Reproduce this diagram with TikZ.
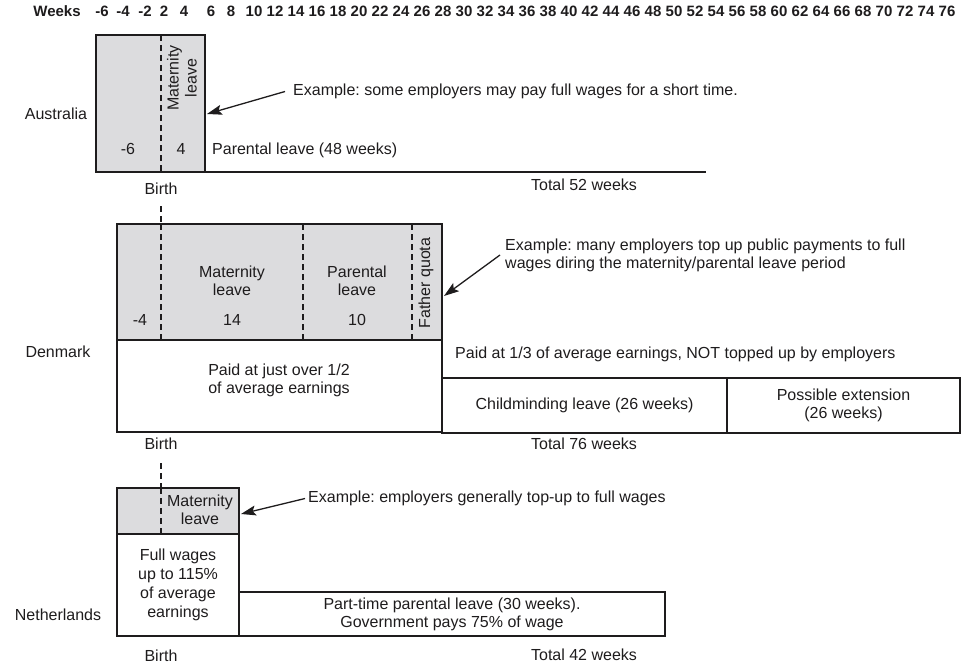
\documentclass[tikz,border=0pt]{standalone}
\usepackage{fontspec}
\setmainfont{Liberation Sans}
\usetikzlibrary{arrows.meta,calc}
\definecolor{ink}{HTML}{1E1C1D}
\definecolor{shade}{HTML}{DCDCDE}
\begin{document}
\frenchspacing
\begin{tikzpicture}[x=1pt,y=-1pt,
  every node/.style={text=ink, font=\fontsize{16}{18}\selectfont},
  box/.style={draw=ink, line width=1.1pt, inner sep=0pt, outer sep=0pt, anchor=north west, align=center},
  grey/.style={box, fill=shade},
  lbl/.style={inner sep=0pt, align=center},
  hdr/.style={inner sep=0pt, anchor=mid, font=\fontsize{15}{18}\selectfont\bfseries},
  birthline/.style={draw=ink, line width=1.1pt, dash pattern=on 6pt off 4pt},
  plainline/.style={draw=ink, line width=1.1pt},
  arr/.style={draw=ink, line width=1.3pt, -{Stealth[length=15pt,width=10pt,inset=3pt]}}
]
\useasboundingbox (0,0) rectangle (971,669);

% header
\node[hdr] (weeks) at (57,14) {Weeks};
\foreach \n/\x [count=\i] in {-6/102,-4/123,-2/145,2/164,4/184,6/211,8/231}
  \node[hdr] (wa\i) at (\x,14) {\n};
\foreach \n [count=\i, evaluate=\n as \x using 254+(\n-10)*10.5] in {10,12,...,76}
  \node[hdr] (wb\i) at (\x,14) {\n};

% ---------------- Australia ----------------
\node[grey, minimum width=109pt, minimum height=137pt] (aubox) at (96,35) {};
\draw[birthline] (161,35) -- (161,172);
\coordinate (auend) at (706,172);
\draw[plainline] (aubox.south east) -- (auend);
\node[lbl, rotate=90] (aumat) at (182,78) {Maternity\\leave};
\node[lbl, anchor=mid] (aum6) at (128,152) {-6};
\node[lbl, anchor=mid] (au4) at (181,152) {4};
\node[lbl, anchor=mid west] (aupar) at (212,152) {Parental leave (48 weeks)};
\node[lbl, anchor=mid west] (auex) at (293,93) {Example: some employers may pay full wages for a short time.};
\coordinate (autip) at (207,114);
\draw[arr] ([xshift=-8pt]auex.west) -- (autip);
\node[lbl, anchor=mid] (aulab) at (56,117) {Australia};
\node[lbl, anchor=mid] (aubirth) at (161,192) {Birth};
\node[lbl, anchor=mid] (autot) at (584,188) {Total 52 weeks};

% ---------------- Denmark ----------------
\draw[birthline] (161,206) -- (161,224);
\node[grey, minimum width=325pt, minimum height=116pt] (dkgrey) at (117,224) {};
\node[box, minimum width=325pt, minimum height=92pt] (dkwhite) at (117,340) {};
\draw[birthline] (161,224) -- (161,340);
\draw[birthline] (303,224) -- (303,340);
\draw[birthline] (412,224) -- (412,340);
\node[lbl] (dkmat) at (232,281) {Maternity\\leave};
\node[lbl] (dkpar) at (357,281) {Parental\\leave};
\node[lbl, anchor=mid] (dkm4) at (140,323) {-4};
\node[lbl, anchor=mid] (dk14) at (232,323) {14};
\node[lbl, anchor=mid] (dk10) at (357,323) {10};
\node[lbl, rotate=90] (dkfq) at (426,283) {Father quota};
\node[lbl] (dkhalf) at (279,380) {Paid at just over 1/2\\of average earnings};
\node[lbl, anchor=west, align=left] (dkex) at (505,255) {Example: many employers top up public payments to full\\wages diring the maternity/parental leave period};
\coordinate (dktip) at (444,296);
\draw[arr] ([xshift=-5pt]dkex.west) -- (dktip);
\node[lbl, anchor=mid west] (dkthird) at (455,356) {Paid at 1/3 of average earnings, NOT topped up by employers};
\node[box, minimum width=285pt, minimum height=55pt] (dkchild) at (442,378) {Childminding leave (26 weeks)};
\node[box, minimum width=233pt, minimum height=55pt] (dkext) at (727,378) {Possible extension\\(26 weeks)};
\node[lbl, anchor=mid] (dklab) at (58,355) {Denmark};
\node[lbl, anchor=mid] (dkbirth) at (161,447) {Birth};
\node[lbl, anchor=mid] (dktot) at (584,447) {Total 76 weeks};

% ---------------- Netherlands ----------------
\draw[birthline] (161,463) -- (161,488);
\node[grey, minimum width=122pt, minimum height=46pt] (nlgrey) at (117,488) {};
\draw[birthline] (161,488) -- (161,534);
\node[lbl] (nlmat) at (200,510) {Maternity\\leave};
\node[box, minimum width=122pt, minimum height=102pt, font=\fontsize{16}{19}\selectfont] (nlwhite) at (117,534) {Full wages\\up to 115\%\\of average\\earnings};
\node[box, minimum width=426pt, minimum height=44pt] (nlpart) at (239,592) {Part-time parental leave (30 weeks).\\Government pays 75\% of wage};
\node[lbl, anchor=mid west] (nlex) at (308,500) {Example: employers generally top-up to full wages};
\coordinate (nltip) at (241,514);
\draw[arr] ([xshift=-3pt]nlex.west) -- (nltip);
\node[lbl, anchor=mid] (nllab) at (58,618) {Netherlands};
\node[lbl, anchor=mid] (nlbirth) at (161,659) {Birth};
\node[lbl, anchor=mid] (nltot) at (584,658) {Total 42 weeks};
\end{tikzpicture}
\end{document}
